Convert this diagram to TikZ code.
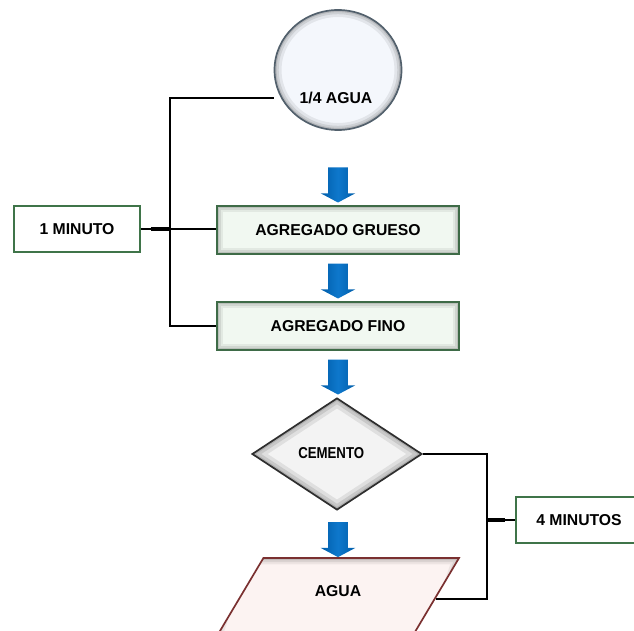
\documentclass[tikz,border=0pt]{standalone}
\usepackage{fontspec}
\setmainfont{Liberation Sans}
\newfontfamily\narrowfont[FakeStretch=0.84]{Liberation Sans}
\usepackage{tikz}
\usetikzlibrary{shapes,shapes.arrows,shapes.geometric,backgrounds,calc}
\definecolor{boxline}{HTML}{3E6B47}
\definecolor{boxfill}{HTML}{F1F8F1}
\definecolor{timeline}{HTML}{3F7449}
\definecolor{ballline}{HTML}{52606C}
\definecolor{ballfill}{HTML}{F4F7FC}
\definecolor{cemline}{HTML}{2E2E2E}
\definecolor{cemfill}{HTML}{F3F3F3}
\definecolor{agualine}{HTML}{7A3030}
\definecolor{aguafill}{HTML}{FCF3F2}
\definecolor{arrowdark}{HTML}{005DAA}
\definecolor{arrowlight}{HTML}{0E78CC}

\begin{document}
\begin{tikzpicture}[font=\bfseries\fontsize{11.2}{13}\selectfont,
thin line/.style={line width=1.1pt},
thick line/.style={line width=2.2pt},
rect glow/.style={path picture={\foreach \w/\o in {9pt/0.06,6pt/0.08,3pt/0.10}
  \draw[line width=\w,black,opacity=\o] (path picture bounding box.south west) rectangle (path picture bounding box.north east);}},
diam glow/.style={path picture={\foreach \w/\o in {12pt/0.08,7pt/0.10,3pt/0.12}
  \draw[line width=\w,black,opacity=\o] (path picture bounding box.north) -- (path picture bounding box.east) -- (path picture bounding box.south) -- (path picture bounding box.west) -- cycle;}},
ball glow/.style={path picture={\foreach \w/\o in {10pt/0.07,6pt/0.09,3pt/0.12}
  \draw[line width=\w,black,opacity=\o] (path picture bounding box.center) ellipse [x radius=1.5875cm,y radius=1.5cm];}},
para glow/.style={path picture={\foreach \w/\o in {9pt/0.06,6pt/0.08,3pt/0.10}
  \draw[line width=\w,black,opacity=\o] (path picture bounding box.south west) -- ([xshift=0.682cm]path picture bounding box.north west) -- (path picture bounding box.north east) -- ([xshift=-0.682cm]path picture bounding box.south east) -- cycle;}},
main box/.style={rectangle,draw=boxline,line width=1.8pt,fill=boxfill,minimum width=6.05cm,minimum height=1.2cm,inner sep=0pt,rect glow},
time box/.style={rectangle,draw=timeline,line width=1.2pt,fill=white,minimum width=3.15cm,minimum height=1.15cm,inner sep=0pt},
water ball/.style={ellipse,draw=ballline,line width=1.2pt,fill=ballfill,minimum width=3.175cm,minimum height=3cm,inner sep=0pt,ball glow},
cement box/.style={diamond,draw=cemline,line width=1.2pt,fill=cemfill,minimum width=4.25cm,minimum height=2.8cm,inner sep=0pt,diam glow},
water box/.style={trapezium,trapezium left angle=71.6,trapezium right angle=108.4,trapezium stretches=true,draw=agualine,line width=1.2pt,fill=aguafill,minimum width=6.11cm,minimum height=2.05cm,inner sep=2pt,para glow},
down arrow/.style={single arrow,shape border rotate=270,draw=none,left color=arrowdark,right color=arrowdark,middle color=arrowlight,minimum height=0.875cm,inner sep=0.2375cm,single arrow head extend=0.1875cm,single arrow tip angle=124}]
\useasboundingbox (0,0) rectangle (15.85,15.75);
\clip (0,0) rectangle (15.85,15.75);
% main flow
\node[water ball] (agua1) at (8.45,14.0) {};
\node (agua1txt) at (8.4,13.3) {1/4 AGUA};
\node[down arrow] (ar1) at (8.45,11.19) {};
\node[main box] (grueso) at (8.45,10.0) {AGREGADO GRUESO};
\node[down arrow] (ar2) at (8.45,8.79) {};
\node[main box] (fino) at (8.45,7.6) {AGREGADO FINO};
\node[down arrow] (ar3) at (8.45,6.39) {};
\node[cement box] (cemento) at (8.425,4.4) {};
\node (cementotxt) at (8.28,4.42) {\narrowfont\bfseries CEMENTO};
\node[down arrow] (ar4) at (8.45,2.325) {};
\node[water box] (agua2) at (8.42,0.775) {};
\node (agua2txt) at (8.45,0.975) {AGUA};
% mixing times
\node[time box] (min1) at (1.925,10.025) {1 MINUTO};
\node[time box] (min4) at (14.475,2.75) {4 MINUTOS};
\coordinate (lbar) at (4.25,13.3);
\coordinate (rbar) at (12.175,4.4);
\begin{pgfonlayer}{background}
\draw[thin line] (agua1.west |- agua1txt) -- (lbar) |- (fino.west);
\draw[thin line] (min1.east) -- (min1.east -| grueso.west);
\draw[thick line] ([xshift=0.25cm]min1.east) -- (lbar |- min1.east);
\draw[thin line] (cemento.east) -- (rbar) |- (agua2.east);
\draw[thin line] (rbar |- min4.west) -- (min4.west);
\draw[thick line] (rbar |- min4.west) -- ([xshift=-0.25cm]min4.west);
\end{pgfonlayer}
\end{tikzpicture}
\end{document}
